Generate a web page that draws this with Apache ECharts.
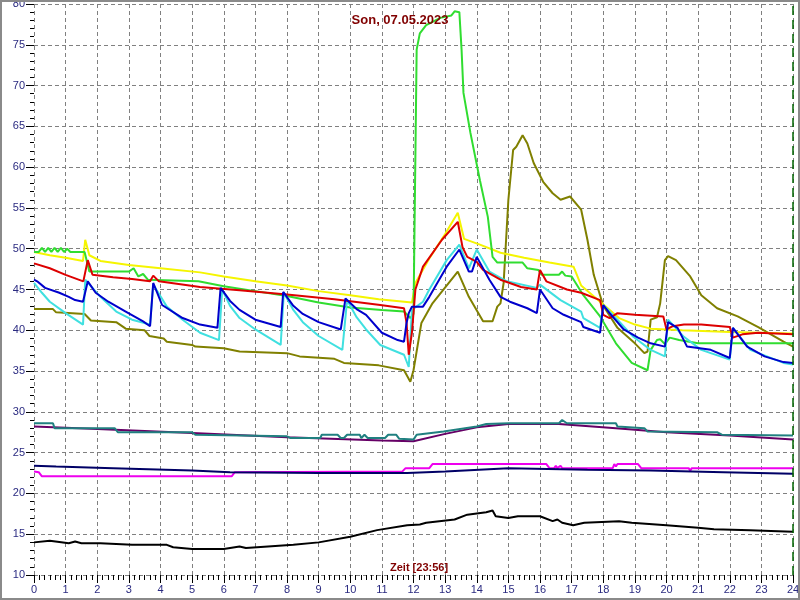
<!DOCTYPE html>
<html>
<head>
<meta charset="utf-8">
<script src="https://cdn.jsdelivr.net/npm/echarts@6/dist/echarts.min.js"></script>
<style>html,body{margin:0;padding:0;background:#fff}#c{width:800px;height:600px}</style>
</head>
<body>
<div id="c"></div>
<script>
const titleText = "Son, 07.05.2023";
const xName = "Zeit [23:56]";
const yName = "°C";
const nowHour = 24;

const yellowData = [[0,49.6],[0.5,49.2],[1.0,48.9],[1.55,48.5],[1.62,51.1],[1.75,49.2],[2.1,48.5],[3,48.0],[4,47.6],[5.25,47.1],[6,46.6],[7,46.0],[8,45.5],[9,44.8],[10,44.3],[10.9,43.8],[11.95,43.4],[12.06,45.8],[12.5,48.8],[13,51.8],[13.4,54.4],[13.6,51.2],[14.1,50.5],[14.75,49.5],[15.5,48.9],[16.3,48.3],[17.06,47.8],[17.3,45.5],[17.9,43.5],[18.5,41.5],[19.0,40.7],[19.5,40.2],[20.5,40.0],[22,39.8],[24,39.6]];
const greenData = [[0,49.6],[0.15,49.6],[0.25,50.1],[0.35,49.6],[0.45,50.1],[0.55,49.6],[0.65,50.1],[0.75,49.6],[0.85,50.1],[0.95,49.6],[1.05,50.0],[1.15,49.6],[1.6,49.6],[1.75,47.2],[3.0,47.2],[3.15,47.6],[3.3,46.6],[3.45,46.9],[3.6,46.2],[5.2,46.0],[6,45.4],[7,44.8],[8,44.2],[9,43.4],[10,42.8],[11,42.5],[11.7,42.3],[11.9,41.5],[12.0,42.0],[12.1,74.4],[12.2,76.4],[12.4,77.4],[12.85,78.3],[13.2,78.6],[13.3,79.1],[13.45,79.0],[13.52,74.4],[13.58,69.1],[13.8,64.2],[14.1,58.4],[14.35,53.9],[14.5,49.0],[14.65,48.3],[15.45,48.3],[15.6,47.6],[15.95,47.4],[16.05,46.8],[16.6,46.8],[16.7,47.2],[16.8,46.7],[17.0,46.6],[17.37,44.3],[17.9,41.7],[18.4,38.4],[18.9,36.0],[19.4,35.1],[19.5,37.6],[19.7,38.8],[19.8,38.9],[19.95,38.3],[20.1,39.1],[20.4,38.8],[21.0,38.4],[24,38.4]];
const redData = [[0,48.2],[0.5,47.6],[1.0,46.8],[1.56,46.0],[1.7,48.6],[1.85,46.8],[2.5,46.5],[3.1,46.3],[3.67,46.0],[3.77,46.7],[3.95,46.0],[5.25,45.3],[6.5,44.9],[8,44.4],[9.5,43.8],[10.95,43.1],[11.7,42.7],[11.78,40.9],[11.85,37.0],[11.95,39.7],[12.06,45.0],[12.3,47.8],[12.9,51.1],[13.4,53.3],[13.55,50.2],[13.7,49.0],[14.0,48.4],[14.2,47.4],[14.75,46.2],[15.4,45.3],[15.9,45.0],[16.0,47.4],[16.2,46.0],[16.85,45.0],[17.3,44.6],[17.9,43.7],[18.0,41.9],[18.2,41.5],[18.45,42.1],[19.0,41.9],[19.9,41.7],[20.0,40.1],[20.2,40.5],[20.55,40.7],[21.1,40.7],[22.0,40.4],[22.1,39.1],[22.4,39.5],[22.9,39.7],[24,39.5]];
const blueData = [[0,46.2],[0.1,46.0],[0.35,45.2],[0.8,44.6],[1.1,44.1],[1.3,43.7],[1.55,43.5],[1.7,46.0],[1.95,44.6],[2.35,43.5],[2.9,42.3],[3.45,41.1],[3.67,40.5],[3.77,45.8],[4.05,43.1],[4.7,41.5],[5.25,40.7],[5.8,40.3],[5.9,45.2],[6.2,43.6],[6.5,42.5],[7.0,41.3],[7.8,40.4],[7.88,44.7],[8.2,43.0],[8.5,42.0],[9.0,41.0],[9.7,40.1],[9.85,43.9],[10.2,42.6],[10.5,41.9],[11.0,39.7],[11.5,38.8],[11.7,38.6],[11.78,40.9],[11.85,42.1],[11.95,42.9],[12.3,42.9],[12.5,44.1],[13.05,47.8],[13.45,49.9],[13.75,47.2],[13.85,47.2],[14.0,49.0],[14.4,46.2],[14.75,44.1],[15.05,43.5],[15.6,42.7],[15.9,42.1],[16.0,45.0],[16.4,42.7],[16.75,41.9],[17.3,41.0],[17.37,40.4],[17.9,39.7],[18.0,43.1],[18.2,42.1],[18.65,40.1],[19.1,39.1],[19.5,38.4],[19.95,38.0],[20.05,41.0],[20.35,40.3],[20.65,38.0],[21.4,37.6],[22.0,36.6],[22.1,40.3],[22.55,38.0],[23.1,36.8],[23.7,36.1],[24,36.0]];
const cyanData = [[0,45.8],[0.25,44.6],[0.5,43.5],[1.0,42.1],[1.55,40.7],[1.62,46.2],[2.1,44.1],[2.6,42.3],[3.1,41.3],[3.67,40.7],[3.77,45.6],[4.2,42.9],[4.7,41.3],[5.25,39.7],[5.85,38.8],[5.95,45.0],[6.2,43.0],[6.5,41.5],[7.0,40.1],[7.8,38.2],[7.9,44.6],[8.2,42.5],[8.5,41.0],[9.0,39.3],[9.75,37.6],[9.9,43.7],[10.2,41.6],[10.5,40.1],[10.95,38.2],[11.7,37.0],[11.85,35.5],[11.95,42.5],[12.3,43.5],[12.5,45.0],[13.05,48.6],[13.45,50.5],[13.75,47.6],[14.0,49.9],[14.4,47.2],[14.95,46.0],[15.9,45.2],[16.0,45.6],[16.65,43.7],[17.3,42.3],[17.37,41.5],[17.9,40.3],[18.0,43.1],[18.45,41.3],[18.95,39.2],[19.5,37.6],[19.95,36.8],[20.05,41.3],[20.55,39.2],[21.1,37.6],[22.0,36.4],[22.1,40.3],[22.65,37.6],[23.7,36.0],[24,35.8]];
const oliveData = [[0,42.6],[0.6,42.6],[0.7,42.2],[1.6,42.0],[1.8,41.2],[2.6,41.0],[2.9,40.2],[3.5,40.0],[3.65,39.3],[4.1,39.0],[4.2,38.6],[5.0,38.2],[5.1,38.0],[6.0,37.8],[6.5,37.4],[8.0,37.2],[8.4,36.8],[9.5,36.5],[9.8,36.0],[10.9,35.7],[11.7,35.1],[11.9,33.7],[12.0,35.1],[12.25,40.9],[12.6,43.3],[13.4,47.2],[13.75,44.1],[14.2,41.1],[14.5,41.1],[14.65,42.9],[14.75,43.3],[14.85,45.8],[15.0,56.0],[15.15,62.1],[15.25,62.5],[15.45,63.9],[15.6,62.9],[15.8,60.5],[16.1,58.2],[16.4,56.8],[16.65,56.0],[16.95,56.4],[17.3,54.8],[17.5,51.1],[17.7,46.8],[18.0,43.0],[18.45,40.3],[19.0,38.4],[19.3,37.2],[19.4,37.4],[19.5,41.3],[19.7,41.6],[19.8,43.3],[19.95,48.6],[20.05,49.1],[20.3,48.6],[20.75,46.6],[21.1,44.3],[21.6,42.7],[22.25,41.7],[22.9,40.4],[23.7,38.6],[24,38.0]];
const tealData = [[0,28.6],[0.6,28.6],[0.65,28.0],[2.55,28.0],[2.65,27.5],[5.0,27.5],[5.1,27.2],[8.0,27.0],[8.1,26.8],[9.05,26.8],[9.1,27.2],[9.6,27.2],[9.7,26.8],[9.8,26.8],[9.9,27.2],[10.3,27.2],[10.35,26.8],[10.45,27.2],[10.55,26.8],[11.1,26.8],[11.2,27.2],[11.45,27.2],[11.55,26.7],[12.0,26.6],[12.1,27.2],[12.95,27.6],[14.0,28.2],[14.3,28.5],[15.0,28.6],[16.6,28.6],[16.7,29.0],[16.85,28.6],[18.4,28.6],[18.45,28.2],[19.3,28.0],[19.4,27.6],[21.6,27.5],[21.75,27.2],[24,27.1]];
const purpleData = [[0,28.2],[2,27.9],[5,27.4],[8,26.9],[11,26.5],[12.0,26.4],[13,27.3],[14.0,28.1],[15.0,28.5],[16.6,28.5],[18.4,28.0],[20.0,27.5],[22.0,27.1],[24,26.6]];
const navyData = [[0,23.4],[0.7,23.3],[2.5,23.1],[5.0,22.8],[6.2,22.6],[9,22.5],[11.8,22.5],[13,22.7],[15,23.1],[17.5,22.9],[19.5,22.8],[21.8,22.6],[24,22.4]];
const magentaData = [[0,22.7],[0.15,22.6],[0.25,22.1],[6.25,22.1],[6.35,22.6],[11.65,22.7],[11.75,23.1],[12.5,23.1],[12.6,23.6],[16.2,23.6],[16.3,23.1],[16.45,23.1],[16.5,23.4],[16.55,23.1],[16.65,23.4],[16.7,23.1],[18.3,23.1],[18.35,23.6],[18.4,23.3],[18.45,23.6],[19.1,23.6],[19.2,23.1],[20.7,23.1],[20.75,22.8],[20.8,23.1],[24,23.1]];
const blackData = [[0,14.0],[0.5,14.2],[1.1,13.9],[1.3,14.1],[1.5,13.9],[2.1,13.9],[3.1,13.7],[4.2,13.7],[4.4,13.4],[5.0,13.2],[6.0,13.2],[6.5,13.5],[6.7,13.3],[7.4,13.5],[8.2,13.7],[9.0,14.0],[10.0,14.7],[10.85,15.5],[11.8,16.1],[12.2,16.2],[12.4,16.4],[13.3,16.8],[13.7,17.4],[14.3,17.7],[14.5,17.9],[14.6,17.2],[15.0,17.0],[15.3,17.2],[16.0,17.2],[16.4,16.6],[16.55,16.8],[16.7,16.4],[17.05,16.1],[17.4,16.4],[18.5,16.6],[18.9,16.4],[20.0,16.1],[21.0,15.8],[21.5,15.6],[22.65,15.5],[23.3,15.4],[24,15.3]];

const seriesDefs = [
  {name:'magenta', data: magentaData, color:'#ee00ee'},
  {name:'navy', data: navyData, color:'#000066'},
  {name:'purple', data: purpleData, color:'#660066'},
  {name:'teal', data: tealData, color:'#208080'},
  {name:'black', data: blackData, color:'#000000'},
  {name:'olive', data: oliveData, color:'#808000'},
  {name:'yellow', data: yellowData, color:'#f5f500'},
  {name:'green', data: greenData, color:'#30dd30'},
  {name:'cyan', data: cyanData, color:'#40e0e0'},
  {name:'red', data: redData, color:'#dd0000'},
  {name:'blue', data: blueData, color:'#0000cc'}
];

const chart = echarts.init(document.getElementById('c'));
const series = seriesDefs.map(d => ({
  name: d.name, type: 'line', data: d.data, showSymbol: false, symbol: 'none',
  lineStyle: {color: d.color, width: 2}, itemStyle: {color: d.color}, z: 3
}));
series.push({
  name: 'now', type: 'line', data: [], symbol: 'none',
  markLine: {symbol: ['none','none'], silent: true, label: {show: false},
    lineStyle: {color: '#006400', type: [9,5], width: 1.5},
    data: [{xAxis: nowHour}]}
});

chart.setOption({
  animation: false,
  backgroundColor: '#ffffff',
  title: {text: titleText, left: 'center', top: 9,
    textStyle: {color: '#800000', fontSize: 13, fontWeight: 'bold', fontFamily: 'Liberation Sans, Arial, sans-serif'}},
  grid: {left: 34, right: 7, top: 4, bottom: 25, containLabel: false, outerBoundsMode: 'none'},
  xAxis: {
    type: 'value', min: 0, max: 24, interval: 1,
    axisLine: {show: false},
    axisTick: {show: true, length: 8, lineStyle: {color: '#000'}},
    minorTick: {show: true, splitNumber: 6, length: 5, lineStyle: {color: '#000'}},
    axisLabel: {color: '#2a2a80', fontSize: 11, margin: 9, fontFamily: 'Liberation Sans, Arial, sans-serif'},
    splitLine: {show: true, lineStyle: {color: '#808080', type: [4,3], width: 1}}
  },
  yAxis: {
    type: 'value', min: 10, max: 80, interval: 5,
    name: yName, nameLocation: 'middle', nameGap: 24, nameRotate: 90,
    nameTextStyle: {color: '#800000', fontSize: 13, fontFamily: 'Liberation Sans, Arial, sans-serif'},
    axisLine: {show: false},
    axisTick: {show: true, length: 8, lineStyle: {color: '#000'}},
    minorTick: {show: true, splitNumber: 5, length: 4, lineStyle: {color: '#000'}},
    axisLabel: {color: '#2a2a80', fontSize: 11, margin: 9, fontFamily: 'Liberation Sans, Arial, sans-serif'},
    splitLine: {show: true, lineStyle: {color: '#808080', type: [4,3], width: 1}}
  },
  graphic: [
    {type: 'text', left: 390, top: 562, z: 10,
      style: {text: xName, fill: '#800000', font: 'bold 11px "Liberation Sans", Arial, sans-serif'}},
    {type: 'rect', shape: {x: 1, y: 1, width: 798, height: 598}, z: 100, silent: true,
      style: {fill: 'none', stroke: '#8a8a8a', lineWidth: 2}}
  ],
  series: series
});
</script>
</body>
</html>
